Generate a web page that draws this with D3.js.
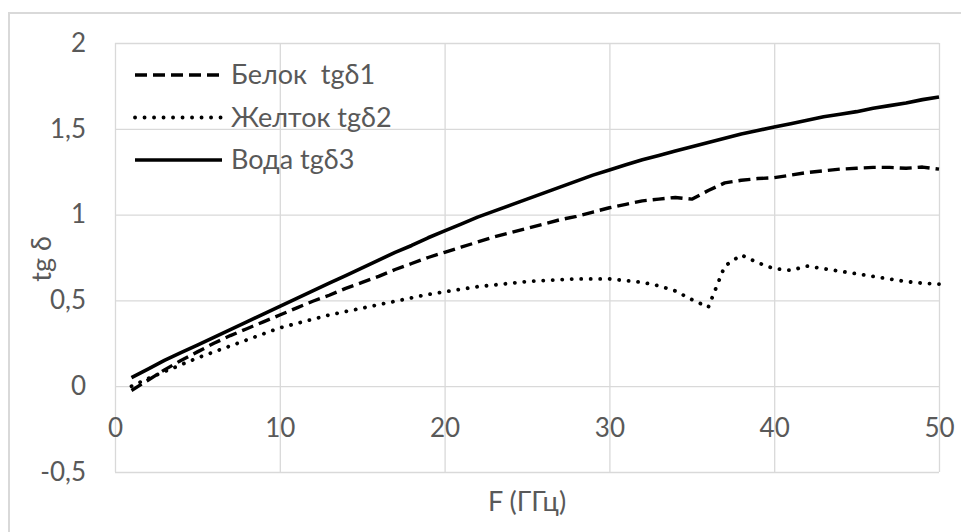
<!DOCTYPE html>
<html>
<head>
<meta charset="utf-8">
<script src="https://cdn.jsdelivr.net/npm/d3@7/dist/d3.min.js"></script>
<style>
    html, body { margin: 0; padding: 0; background: #fff; }
    svg { display: block; font-family: Lato, "Open Sans", sans-serif; }
</style>
</head>
<body>
<div id="chart"></div>
<script>
// Frequency, GHz
var freq = [1, 2, 3, 4, 5, 6, 7, 8, 9, 10, 11, 12, 13, 14, 15, 16, 17, 18, 19, 20,
            21, 22, 23, 24, 25, 26, 27, 28, 29, 30, 31, 32, 33, 34, 35, 36, 37, 38, 39, 40,
            41, 42, 43, 44, 45, 46, 47, 48, 49, 50];

// Белок tgδ1
var belok = [-0.025, 0.035, 0.095, 0.15, 0.20, 0.25, 0.295, 0.335, 0.375, 0.415,
             0.455, 0.495, 0.53, 0.57, 0.605, 0.64, 0.68, 0.715, 0.75, 0.78,
             0.81, 0.84, 0.87, 0.895, 0.92, 0.945, 0.97, 0.99, 1.015, 1.04,
             1.06, 1.08, 1.09, 1.10, 1.09, 1.14, 1.185, 1.20, 1.21, 1.215,
             1.23, 1.245, 1.255, 1.265, 1.27, 1.275, 1.275, 1.27, 1.277, 1.265];

// Желток tgδ2
var zheltok = [0.00, 0.045, 0.085, 0.125, 0.165, 0.20, 0.235, 0.27, 0.305, 0.34,
               0.365, 0.39, 0.415, 0.435, 0.455, 0.475, 0.495, 0.515, 0.535, 0.55,
               0.565, 0.58, 0.59, 0.60, 0.61, 0.615, 0.62, 0.625, 0.625, 0.625,
               0.615, 0.605, 0.585, 0.555, 0.505, 0.46, 0.70, 0.765, 0.72, 0.685,
               0.675, 0.70, 0.685, 0.67, 0.655, 0.64, 0.625, 0.61, 0.60, 0.595];

// Вода tgδ3
var voda = [0.05, 0.10, 0.15, 0.195, 0.24, 0.285, 0.33, 0.375, 0.42, 0.465,
            0.51, 0.555, 0.60, 0.645, 0.69, 0.735, 0.78, 0.82, 0.865, 0.905,
            0.945, 0.985, 1.02, 1.055, 1.09, 1.125, 1.16, 1.195, 1.23, 1.26,
            1.29, 1.32, 1.345, 1.37, 1.395, 1.42, 1.445, 1.47, 1.49, 1.51,
            1.53, 1.55, 1.57, 1.585, 1.60, 1.62, 1.635, 1.65, 1.67, 1.685];

var seriesNames = ["Белок  tgδ1", "Желток tgδ2", "Вода tgδ3"];
var xTicks = [0, 10, 20, 30, 40, 50];
var yTicks = [-0.5, 0, 0.5, 1, 1.5, 2];
var xTitle = "F (ГГц)";
var yTitle = "tg δ";

(function () {
    var W = 961, H = 532;
    var TEXT = "#595959", GRID = "#d9d9d9";

    // Plot area (pixels)
    var left = 115, right = 939, top = 43, bottom = 472;

    // Line styles per series
    var styles = [
        { dash: "12,6", cap: "butt", width: 3.4 },
        { dash: "0.1,9.4", cap: "round", width: 3.8 },
        { dash: null, cap: "butt", width: 3.6 }
    ];
    var values = [belok, zheltok, voda];

    var svg = d3.select("#chart").append("svg")
        .attr("width", W)
        .attr("height", H);

    // Outer chart border
    svg.append("rect")
        .attr("x", 9).attr("y", 13)
        .attr("width", W + 10).attr("height", H + 10)
        .attr("fill", "none")
        .attr("stroke", GRID)
        .attr("stroke-width", 2);

    var x = d3.scaleLinear().domain([0, 50]).range([left, right]);
    var y = d3.scaleLinear().domain([-0.5, 2]).range([bottom, top]);

    var fmt = function (d) { return String(d).replace(".", ","); };

    // Vertical grid
    svg.append("g")
        .attr("transform", "translate(0," + bottom + ")")
        .call(d3.axisBottom(x).tickValues(xTicks).tickSize(-(bottom - top)).tickFormat(""))
        .call(function (g) { g.select(".domain").remove(); })
        .selectAll("line").attr("stroke", GRID).attr("stroke-width", 1.3);

    // Horizontal grid + y labels
    var yAxis = svg.append("g")
        .attr("transform", "translate(" + left + ",0)")
        .call(d3.axisLeft(y).tickValues(yTicks).tickSize(-(right - left)).tickPadding(29).tickFormat(fmt));
    yAxis.select(".domain").remove();
    yAxis.selectAll("line").attr("stroke", GRID).attr("stroke-width", 1.3);
    yAxis.selectAll("text")
        .attr("fill", TEXT)
        .style("font-size", "26px")
        .style("font-family", "Lato, sans-serif");

    // x labels sit under the zero line
    var xAxis = svg.append("g")
        .attr("transform", "translate(0," + y(0) + ")")
        .call(d3.axisBottom(x).tickValues(xTicks).tickSize(0).tickPadding(32));
    xAxis.select(".domain").remove();
    xAxis.selectAll("text")
        .attr("fill", TEXT)
        .style("font-size", "26px")
        .style("font-family", "Lato, sans-serif");

    // Axis titles
    svg.append("text")
        .attr("x", (left + right) / 2)
        .attr("y", 502)
        .attr("dy", "0.35em")
        .attr("text-anchor", "middle")
        .attr("fill", TEXT)
        .style("font-size", "27px")
        .text(xTitle);

    svg.append("text")
        .attr("transform", "translate(42,259) rotate(-90)")
        .attr("dy", "0.35em")
        .attr("text-anchor", "middle")
        .attr("fill", TEXT)
        .style("font-size", "27px")
        .text(yTitle);

    // Series
    var line = d3.line()
        .x(function (d) { return x(d[0]); })
        .y(function (d) { return y(d[1]); });

    values.forEach(function (vals, i) {
        var pts = freq.map(function (f, j) { return [f, vals[j]]; });
        svg.append("path")
            .datum(pts)
            .attr("d", line)
            .attr("fill", "none")
            .attr("stroke", "#000")
            .attr("stroke-width", styles[i].width)
            .attr("stroke-linecap", styles[i].cap)
            .attr("stroke-linejoin", "round")
            .attr("stroke-dasharray", styles[i].dash);
    });

    // Legend
    var legend = svg.append("g");
    seriesNames.forEach(function (name, i) {
        var ly = 75 + i * 42.5;
        legend.append("line")
            .attr("x1", 135).attr("x2", 222)
            .attr("y1", ly).attr("y2", ly)
            .attr("stroke", "#000")
            .attr("stroke-width", styles[i].width)
            .attr("stroke-linecap", styles[i].cap)
            .attr("stroke-dasharray", styles[i].dash);
        legend.append("text")
            .attr("x", 231).attr("y", ly)
            .attr("dy", "0.35em")
            .attr("fill", TEXT)
            .style("font-size", "27px")
            .style("white-space", "pre")
            .attr("xml:space", "preserve")
            .text(name);
    });
})();
</script>
</body>
</html>
